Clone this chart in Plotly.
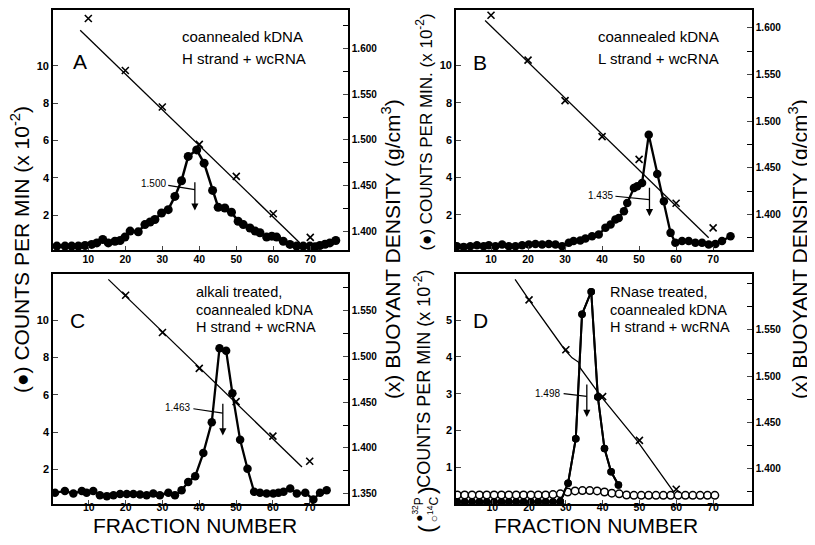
import plotly.graph_objects as go

W, H = 815, 545
# the html page has an 8 px body margin; positions below are given in screen pixels
OFF = 8

# ---------------- data ----------------
# Panel A : coannealed kDNA, H strand + wcRNA
a_frac = [1.5, 3.7, 5.5, 7.3, 9.1, 10.9, 12.3, 13.9, 15.4, 17.2, 18.6, 19.9, 21.3, 23.5, 25.3,
          26.7, 28.0, 29.8, 31.6, 33.4, 35.2, 37.0, 39.3, 41.3, 43.6, 45.1, 46.9, 48.7, 50.5,
          51.9, 53.7, 55.1, 56.4, 58.2, 59.6, 60.9, 62.7, 64.5, 66.3, 68.1, 69.9, 71.3, 72.6,
          74.0, 75.3, 76.9]
a_counts = [0.35, 0.35, 0.35, 0.35, 0.38, 0.44, 0.52, 0.70, 0.52, 0.61, 0.65, 0.83, 1.15, 1.11,
            1.50, 1.64, 1.77, 2.12, 2.30, 3.01, 3.85, 5.15, 5.50, 4.79, 3.33, 2.43, 2.39, 2.16,
            1.68, 1.50, 1.32, 1.15, 1.06, 0.83, 0.88, 0.83, 0.61, 0.44, 0.35, 0.35, 0.35, 0.31,
            0.38, 0.45, 0.52, 0.65]
a_dens_frac = [10, 20, 30, 40, 50, 60, 70]
a_dens = [1.633, 1.576, 1.536, 1.495, 1.460, 1.419, 1.393]
a_fit_frac = [7.8, 67.2]
a_fit_dens = [1.620, 1.387]

# Panel B : coannealed kDNA, L strand + wcRNA
b_frac = [0.8, 2.6, 4.4, 6.2, 8.0, 9.4, 11.2, 13.0, 14.8, 16.6, 18.4, 20.2, 22.0, 23.8, 25.6,
          27.4, 29.2, 31.0, 32.3, 34.1, 35.5, 37.3, 39.1, 40.9, 42.3, 43.6, 44.5, 45.9, 46.8,
          48.6, 49.5, 50.8, 52.6, 54.9, 56.7, 58.5, 59.8, 61.6, 63.4, 65.2, 67.0, 68.8, 70.6,
          72.4, 74.7]
b_counts = [0.32, 0.28, 0.32, 0.37, 0.32, 0.37, 0.32, 0.41, 0.32, 0.32, 0.37, 0.41, 0.44, 0.41,
            0.44, 0.41, 0.32, 0.50, 0.59, 0.62, 0.73, 0.85, 0.94, 1.30, 1.48, 1.74, 1.83, 2.19,
            2.63, 3.43, 3.52, 3.70, 6.28, 4.18, 2.72, 1.03, 0.50, 0.59, 0.59, 0.50, 0.50, 0.41,
            0.44, 0.59, 0.85]
b_dens_frac = [10, 20, 30, 40, 50, 60, 70]
b_dens = [1.6136, 1.5655, 1.522, 1.4835, 1.459, 1.412, 1.3856]
b_fit_frac = [8.4, 68.8]
b_fit_dens = [1.608, 1.375]

# Panel C : alkali treated
c_frac = [0.8, 3.5, 5.8, 8.1, 9.4, 11.2, 13.0, 14.9, 16.7, 18.5, 20.3, 22.1, 23.9, 25.7, 27.5,
          29.3, 31.6, 33.4, 35.2, 37.0, 38.9, 41.1, 43.4, 45.5, 47.3, 49.0, 51.1, 53.1, 54.9,
          56.5, 58.3, 60.1, 61.5, 62.9, 64.7, 66.5, 68.8, 71.0, 72.8, 74.6]
c_counts = [0.74, 0.84, 0.70, 0.84, 0.74, 0.84, 0.61, 0.56, 0.61, 0.67, 0.67, 0.67, 0.65, 0.61,
            0.70, 0.61, 0.74, 0.61, 0.88, 1.32, 1.63, 2.87, 4.53, 8.50, 8.36, 6.08, 3.58, 2.03,
            0.79, 0.74, 0.70, 0.70, 0.74, 0.79, 0.97, 0.70, 0.74, 0.38, 0.74, 0.88]
c_dens_frac = [20, 30, 40, 50, 60, 70]
c_dens = [1.5663, 1.5257, 1.4867, 1.4505, 1.4129, 1.3855]
c_fit_frac = [15.3, 67.9]
c_fit_dens = [1.5836, 1.3793]

# Panel D : RNase treated
d_p32_frac = [0.5, 2.5, 4.5, 6.5, 8.5, 10.5, 12.5, 14.5, 16.5, 18.5, 20.5, 22.5, 24.5, 26.5,
              28.5, 30.6, 32.7, 34.4, 36.9, 38.7, 40.5, 42.3, 44.3]
d_p32_counts = [0.06, 0.06, 0.06, 0.06, 0.06, 0.06, 0.06, 0.06, 0.06, 0.06, 0.06, 0.06, 0.06,
                0.06, 0.07, 0.57, 1.78, 5.16, 5.77, 2.91, 1.51, 0.88, 0.52]
d_c14_frac = [0.5, 2.5, 4.5, 6.5, 8.5, 10.5, 12.5, 14.5, 16.5, 18.5, 20.5, 22.5, 24.5, 26.5,
              28.5, 30.5, 32.5, 34.5, 36.5, 38.5, 40.5, 42.5, 44.5, 46.5, 48.5, 50.5, 52.5,
              54.5, 56.5, 58.5, 60.5, 62.5, 64.5, 66.5, 68.5, 70.5]
d_c14_counts = [0.25, 0.25, 0.25, 0.25, 0.25, 0.25, 0.25, 0.25, 0.25, 0.25, 0.25, 0.25, 0.25,
                0.26, 0.28, 0.33, 0.36, 0.37, 0.37, 0.36, 0.33, 0.30, 0.28, 0.25, 0.24, 0.24,
                0.24, 0.24, 0.24, 0.24, 0.24, 0.24, 0.24, 0.24, 0.24, 0.24]
d_dens_frac = [20, 30, 40, 50, 60]
d_dens = [1.5825, 1.5286, 1.4779, 1.4305, 1.3777]
d_line_frac = [16.2, 20, 29.7, 31.7, 33.5, 33.9, 39.6, 49.3, 59.3]
d_line_dens = [1.6047, 1.5825, 1.5286, 1.5198, 1.515, 1.5089, 1.4779, 1.4305, 1.3748]

# peak buoyant density labels
peak_labels = ["1.500", "1.435", "1.463", "1.498"]

# tick labels
x_ticks = [10, 20, 30, 40, 50, 60, 70]
count_ticks_abc = [2, 4, 6, 8, 10]
count_ticks_d = [1, 2, 3, 4, 5]
dens_major_a = [1.400, 1.450, 1.500, 1.550, 1.600]
dens_minor_a = [1.425, 1.475, 1.525, 1.575, 1.625]
dens_major_b = [1.400, 1.450, 1.500, 1.550, 1.600]
dens_minor_b = [1.375, 1.425, 1.475, 1.525, 1.575]
dens_major_c = [1.350, 1.400, 1.450, 1.500, 1.550]
dens_minor_c = [1.375, 1.425, 1.475, 1.525, 1.575]
dens_major_d = [1.400, 1.450, 1.500, 1.550]
dens_minor_d = [1.375, 1.425, 1.475, 1.525, 1.575, 1.600]

# ---------------- figure ----------------
FONT = "Liberation Sans, Arial, sans-serif"
fig = go.Figure()


def px_x(p):
    return min(1.0, max(0.0, (p - OFF) / W))


def px_y(p):
    return min(1.0, max(0.0, 1 - (p - OFF) / H))


panels = [
    dict(xa="x", yl="y", yr="y2", xdom=[53, 348], ydom=[8, 249],
         xr=[0.45, 80.2], ylr=[0.133, 12.99], yrr=[1.3791, 1.6423],
         fx=a_frac, fc=a_counts, dx=a_dens_frac, dd=a_dens, lx=a_fit_frac, ld=a_fit_dens,
         cticks=count_ticks_abc, rt=dens_major_a, rm=dens_minor_a, msize=9, lw=2.5, so=-2),
    dict(xa="x2", yl="y3", yr="y4", xdom=[456, 752], ydom=[8, 249],
         xr=[0.54, 80.5], ylr=[0.107, 12.96], yrr=[1.3618, 1.6192],
         fx=b_frac, fc=b_counts, dx=b_dens_frac, dd=b_dens, lx=b_fit_frac, ld=b_fit_dens,
         cticks=count_ticks_abc, rt=dens_major_b, rm=dens_minor_b, msize=8.5, lw=2.3, so=-2),
    dict(xa="x3", yl="y5", yr="y6", xdom=[53, 348], ydom=[273, 504],
         xr=[0.27, 80.4], ylr=[0.128, 12.48], yrr=[1.3388, 1.5894],
         fx=c_frac, fc=c_counts, dx=c_dens_frac, dd=c_dens, lx=c_fit_frac, ld=c_fit_dens,
         cticks=count_ticks_abc, rt=dens_major_c, rm=dens_minor_c, msize=8.5, lw=2.3, so=-8),
    dict(xa="x4", yl="y7", yr="y8", xdom=[456, 752], ydom=[273, 504],
         xr=[0.14, 80.6], ylr=[0.0, 6.25], yrr=[1.3615, 1.6105],
         fx=d_p32_frac, fc=d_p32_counts, dx=d_dens_frac, dd=d_dens, lx=d_line_frac,
         ld=d_line_dens, cticks=count_ticks_d, rt=dens_major_d, rm=dens_minor_d, msize=7.5,
         lw=2.0, so=-8),
]

tickfont = dict(family=FONT, size=11, color="black", weight="bold")
xtickfont = dict(family=FONT, size=10.5, color="black", weight="bold")
rtickfont = dict(family=FONT, size=10, color="black", weight="bold")

layout_axes = {}
for i, p in enumerate(panels):
    # density line
    fig.add_trace(go.Scatter(x=p["lx"], y=p["ld"], mode="lines", xaxis=p["xa"], yaxis=p["yr"],
                             line=dict(color="black", width=1.3), showlegend=False,
                             hoverinfo="skip"))
    if i == 3:
        fig.add_trace(go.Scatter(x=d_p32_frac, y=d_p32_counts, mode="lines+markers",
                                 xaxis=p["xa"], yaxis=p["yl"], showlegend=False,
                                 line=dict(color="black", width=p["lw"]),
                                 marker=dict(symbol="circle", size=p["msize"], color="black")))
        fig.add_trace(go.Scatter(x=d_c14_frac, y=d_c14_counts, mode="markers", xaxis=p["xa"],
                                 yaxis=p["yl"], showlegend=False,
                                 marker=dict(symbol="circle", size=7.5, color="white",
                                             line=dict(color="black", width=1.5))))
    fig.add_trace(go.Scatter(x=p["fx"], y=p["fc"], mode="lines+markers", xaxis=p["xa"],
                             yaxis=p["yl"], showlegend=False,
                             line=dict(color="black", width=p["lw"]),
                             marker=dict(symbol="circle", size=p["msize"], color="black")))
    fig.add_trace(go.Scatter(x=p["dx"], y=p["dd"], mode="markers", xaxis=p["xa"],
                             yaxis=p["yr"], showlegend=False,
                             marker=dict(symbol="x-thin", size=7, color="black",
                                         line=dict(color="black", width=1.6))))

    xk = "xaxis" if p["xa"] == "x" else "xaxis" + p["xa"][1:]
    ylk = "yaxis" if p["yl"] == "y" else "yaxis" + p["yl"][1:]
    yrk = "yaxis" + p["yr"][1:]
    xdom = [px_x(p["xdom"][0]), px_x(p["xdom"][1])]
    ydom = [px_y(p["ydom"][1]), px_y(p["ydom"][0])]
    layout_axes[xk] = dict(domain=xdom, range=p["xr"], anchor=p["yl"], tickmode="array",
                           tickvals=x_ticks, ticks="inside", ticklen=4, tickwidth=1.3,
                           showline=True, mirror=True, linecolor="black", linewidth=1.6,
                           showgrid=False, zeroline=False, tickfont=xtickfont,
                           ticklabelstandoff=p["so"])
    layout_axes[ylk] = dict(domain=ydom, range=p["ylr"], anchor=p["xa"], tickmode="array",
                            tickvals=p["cticks"], ticks="inside", ticklen=5, tickwidth=1.3,
                            showline=True, linecolor="black", linewidth=1.6,
                            showgrid=False, zeroline=False, tickfont=tickfont)
    layout_axes[yrk] = dict(domain=ydom, range=p["yrr"], anchor=p["xa"], overlaying=p["yl"],
                            side="right", tickmode="array", tickvals=p["rt"],
                            tickformat=".3f", ticks="inside", ticklen=5, tickwidth=1.3,
                            minor=dict(tickmode="array", tickvals=p["rm"], ticks="inside",
                                       ticklen=5, tickwidth=1.3, tickcolor="black",
                                       showgrid=False),
                            showline=True, linecolor="black", linewidth=1.6,
                            showgrid=False, zeroline=False, tickfont=rtickfont)

fig.update_layout(width=W, height=H, margin=dict(l=0, r=0, t=0, b=0),
                  paper_bgcolor="white", plot_bgcolor="white", **layout_axes)

ann = []
shapes = []

# panel letters
for letter, (cx, cy) in zip(["A", "B", "C", "D"], [(79.5, 59.5), (480, 60.5), (77.5, 320),
                                                   (480, 320)]):
    ann.append(dict(text=letter, x=px_x(cx), y=px_y(cy), xref="paper", yref="paper",
                    showarrow=False, xanchor="center", yanchor="middle",
                    font=dict(family=FONT, size=21, color="black")))

# panel descriptions
desc = [
    (["coannealed kDNA", "H strand + wcRNA"], 180, [35, 56.5], 15),
    (["coannealed kDNA", "L strand + wcRNA"], 596, [35, 57], 15),
    (["alkali treated,", "coannealed kDNA", "H strand + wcRNA"], 194, [291, 309, 326], 14.5),
    (["RNase treated,", "coannealed kDNA", "H strand + wcRNA"], 608, [291, 309, 326], 14.5),
]
for lines, lx, ys, fs in desc:
    for t, yy in zip(lines, ys):
        ann.append(dict(text=t, x=px_x(lx), y=px_y(yy), xref="paper", yref="paper",
                        showarrow=False, xanchor="left", yanchor="middle",
                        font=dict(family=FONT, size=fs, color="black")))

# peak density arrows
arrows = [
    ("x", "y", peak_labels[0], (27.6, 3.68), (31.6, 3.60), (38.8, 3.37), 38.8, 3.85, 2.25),
    ("x2", "y3", peak_labels[1], (39.5, 3.01), (43.6, 2.99), (52.8, 2.81), 52.8, 3.52, 1.92),
    ("x3", "y5", peak_labels[2], (34.1, 5.29), (38.4, 5.25), (46.4, 5.01), 46.4, 5.60, 3.82),
    ("x4", "y7", peak_labels[3], (25.1, 3.01), (29.4, 3.00), (35.7, 2.93), 35.7, 3.29, 2.37),
]
for xa, ya, lab, tpos, l0, l1, axx, ytop, ybot in arrows:
    ann.append(dict(text=lab, x=tpos[0], y=tpos[1], xref=xa, yref=ya, showarrow=False,
                    xanchor="center", yanchor="middle",
                    font=dict(family=FONT, size=10, color="black")))
    shapes.append(dict(type="line", xref=xa, yref=ya, x0=l0[0], y0=l0[1], x1=l1[0], y1=l1[1],
                       line=dict(color="black", width=1.2)))
    ann.append(dict(text="", x=axx, y=ybot, ax=axx, ay=ytop, xref=xa, yref=ya, axref=xa,
                    ayref=ya, showarrow=True, arrowhead=2, arrowsize=1.1, arrowwidth=1.3,
                    arrowcolor="black", standoff=0))


# axis titles
def rot(text, cx, cy, fs):
    ann.append(dict(text=text, x=px_x(cx), y=px_y(cy), xref="paper", yref="paper",
                    showarrow=False, textangle=-90, xanchor="center", yanchor="middle",
                    font=dict(family=FONT, size=fs, color="black")))


rot("(●) COUNTS PER MIN (x 10<sup>-2</sup>)", 20, 249, 21)
rot("(x) BUOYANT DENSITY (g/cm<sup>3</sup>)", 391, 248, 21)
rot("(x) BUOYANT DENSITY (g/cm<sup>3</sup>)", 798, 248, 21)
rot("(●) COUNTS PER MIN. (x 10<sup>-2</sup>)", 424, 131, 17)
rot("COUNTS PER MIN (x 10<sup>-2</sup>)", 423, 378, 18)
rot("●<sup>32</sup>P<br>○<sup>14</sup>C", 426, 509, 12)
rot("(", 426, 529, 24)
rot(")", 426, 490, 24)

for cx in [195, 596]:
    ann.append(dict(text="FRACTION NUMBER", x=px_x(cx), y=px_y(525), xref="paper",
                    yref="paper", showarrow=False, xanchor="center", yanchor="middle",
                    font=dict(family=FONT, size=21, color="black")))

fig.update_layout(annotations=ann, shapes=shapes)
fig.write_html("out.html")
